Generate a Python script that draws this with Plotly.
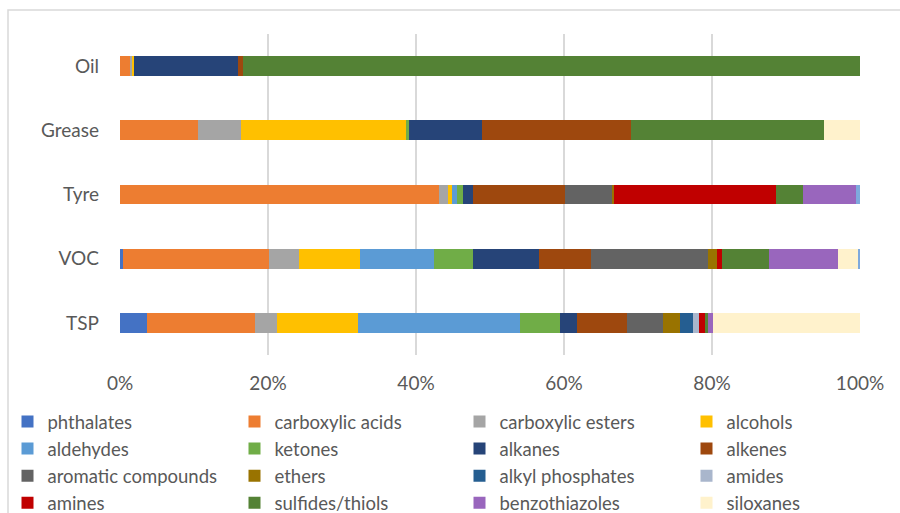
import plotly.graph_objects as go

# Sample types, bottom to top of the chart
categories = ["TSP", "VOC", "Tyre", "Grease", "Oil"]

# Share of each compound class (%) per sample type, same order as categories
phthalates = [3.6, 0.35, 0, 0, 0]
carboxylic_acids = [14.7, 19.85, 43.1, 10.6, 1.35]
carboxylic_esters = [2.9, 4.0, 1.2, 5.7, 0.3]
alcohols = [10.9, 8.2, 0.6, 22.3, 0.3]
aldehydes = [22.0, 10.0, 0.6, 0, 0]
ketones = [5.3, 5.3, 0.9, 0.5, 0]
alkanes = [2.4, 8.9, 1.3, 9.8, 14.0]
alkenes = [6.7, 7.0, 12.5, 20.1, 0.7]
aromatic_compounds = [4.9, 15.9, 6.4, 0, 0]
ethers = [2.3, 1.2, 0.2, 0, 0]
alkyl_phosphates = [1.7, 0, 0, 0, 0]
amides = [0.8, 0, 0, 0, 0]
amines = [0.9, 0.7, 21.8, 0, 0]
sulfides_thiols = [0.4, 6.3, 3.7, 26.1, 83.35]
benzothiazoles = [0.7, 9.3, 7.2, 0, 0]
siloxanes = [19.8, 2.7, 0, 4.9, 0]
others = [0, 0.3, 0.5, 0, 0]

x_tick_values = [0, 20, 40, 60, 80, 100]
x_tick_labels = ["0%", "20%", "40%", "60%", "80%", "100%"]

series = [
    ("phthalates", phthalates, "#4472C4", True),
    ("carboxylic acids", carboxylic_acids, "#ED7D31", True),
    ("carboxylic esters", carboxylic_esters, "#A5A5A5", True),
    ("alcohols", alcohols, "#FFC000", True),
    ("aldehydes", aldehydes, "#5B9BD5", True),
    ("ketones", ketones, "#70AD47", True),
    ("alkanes", alkanes, "#264478", True),
    ("alkenes", alkenes, "#9E480E", True),
    ("aromatic compounds", aromatic_compounds, "#636363", True),
    ("ethers", ethers, "#997300", True),
    ("alkyl phosphates", alkyl_phosphates, "#255E91", True),
    ("amides", amides, "#A9B6CC", True),
    ("amines", amines, "#C00000", True),
    ("sulfides/thiols", sulfides_thiols, "#548235", True),
    ("benzothiazoles", benzothiazoles, "#9966BD", True),
    ("siloxanes", siloxanes, "#FFF2CC", True),
    ("others", others, "#7EA9DD", False),
]

FONT = "Lato, 'Open Sans', sans-serif"
TEXT = "#595959"
GRID = "#D9D9D9"

W, H = 900, 513
ml, mr, mt, mb = 120, 40, 34, 158
pw, ph = W - ml - mr, H - mt - mb

def px_x(p):
    return (p - ml) / pw

def px_y(p):
    return (H - mb - p) / ph

# legend is laid out as four columns, filled row by row
legend_ids = ["legend", "legend2", "legend3", "legend4"]
legend_left_px = [7.5, 234.5, 459.5, 686.5]
legend_top_px = 403

fig = go.Figure()
for i, (name, vals, color, show) in enumerate(series):
    fig.add_trace(go.Bar(
        y=categories, x=vals, name=name, orientation="h",
        marker=dict(color=color, line=dict(width=0)),
        showlegend=show,
        legend=legend_ids[i % 4],
    ))

legend_layouts = {}
for lid, left in zip(legend_ids, legend_left_px):
    legend_layouts[lid] = dict(
        orientation="v", traceorder="normal",
        xref="paper", yref="container",
        x=px_x(left), xanchor="left",
        y=1 - legend_top_px / H, yanchor="top",
        bgcolor="rgba(0,0,0,0)", borderwidth=0,
        font=dict(size=18.5, color=TEXT),
        itemclick=False, itemdoubleclick=False,
        tracegroupgap=0,
    )

fig.update_layout(
    width=W, height=H,
    margin=dict(l=ml, r=mr, t=mt, b=mb, pad=0),
    barmode="stack",
    bargap=0.69,
    plot_bgcolor="white",
    paper_bgcolor="white",
    font=dict(family=FONT, size=19, color=TEXT),
    xaxis=dict(
        range=[0, 100], tickmode="array",
        tickvals=x_tick_values, ticktext=x_tick_labels,
        showgrid=True, gridcolor=GRID, gridwidth=1.5,
        zeroline=False, showline=False, ticks="",
        ticklabelstandoff=15, automargin=False,
        tickfont=dict(size=19, color=TEXT),
    ),
    yaxis=dict(
        showgrid=False, zeroline=False, showline=False, ticks="",
        ticklabelstandoff=20, automargin=False,
        tickfont=dict(size=19, color=TEXT),
    ),
    shapes=[
        dict(
            type="rect", xref="paper", yref="paper",
            x0=px_x(8), x1=px_x(906), y0=px_y(530), y1=px_y(10),
            line=dict(color=GRID, width=1.5), fillcolor="rgba(0,0,0,0)",
            layer="below",
        )
    ],
    **legend_layouts,
)

fig.write_html("out.html")
